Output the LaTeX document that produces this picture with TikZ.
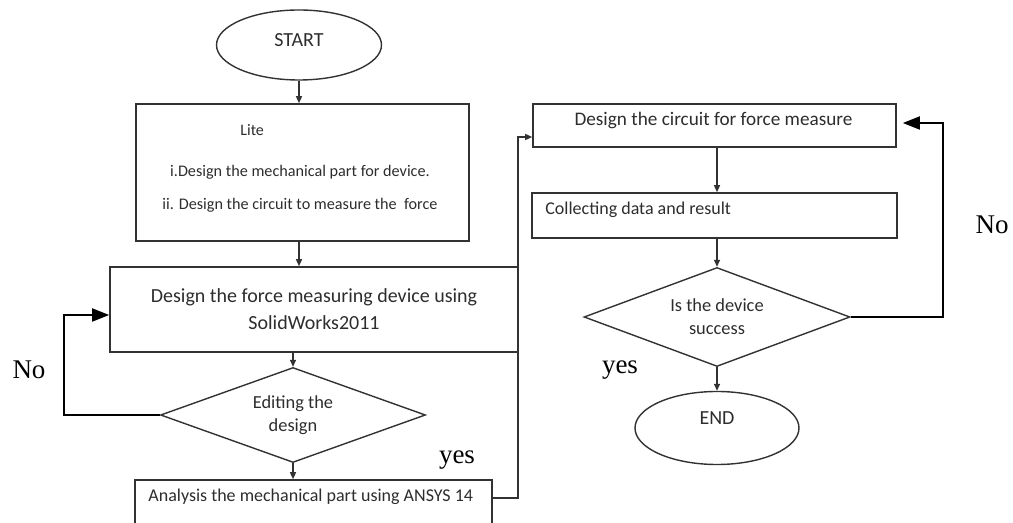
\documentclass[tikz,border=0pt]{standalone}
\usepackage{fontspec}
\setmainfont{Carlito}
\newfontfamily\notefont{Liberation Serif}
\usetikzlibrary{arrows.meta, shapes.geometric}
\definecolor{boxline}{RGB}{50,50,50}
\definecolor{boxtext}{RGB}{45,45,45}

\begin{document}
\begin{tikzpicture}[x=0.5pt,y=-0.5pt,
  every node/.style={text=boxtext,inner sep=0pt,font=\fontsize{9}{11}\selectfont},
  blk/.style={draw=boxline,line width=0.8pt,rectangle},
  term/.style={draw=boxline,line width=0.7pt,ellipse,font=\fontsize{10}{12}\selectfont},
  cond/.style={draw=boxline,line width=0.7pt,diamond,aspect=2.7,align=center,font=\fontsize{9.2}{11.5}\selectfont},
  flow/.style={-{Triangle[length=3.5pt,width=3pt]},line width=0.7pt,draw=boxline},
  loop/.style={-{Triangle[length=8.5pt,width=6.5pt]},line width=0.9pt,draw=black},
  note/.style={font=\notefont\fontsize{13.5}{16}\selectfont,text=black}]
  \useasboundingbox (0,0) rectangle (1013,523);
  \clip (0,0) rectangle (1013,523);
  \node[term,minimum width=82.5pt,minimum height=35pt,text depth=5pt](start) at(299,45){START};
  \node[blk,minimum width=166.5pt,minimum height=68.5pt](lit) at(302.5,172.5){};
  \node[font=\fontsize{8}{9}\selectfont,anchor=west](litA) at(240,130){Lite};
  \node[font=\fontsize{8.1}{9}\selectfont](litB) at(300,172){i.Design the mechanical part for device.};
  \node[font=\fontsize{8.1}{9}\selectfont](litC) at(300,205){ii. Design the circuit to measure the\ \ force};
  \node[blk,minimum width=204pt,minimum height=42.5pt,align=center,font=\fontsize{10}{13.5}\selectfont](design) at(314,309.5){Design the force measuring device using\\SolidWorks2011};
  \node[cond,minimum width=132.5pt,minimum height=47.5pt](edit) at(293,415){Editing the\\design};
  \node[blk,minimum width=178.5pt,minimum height=30pt](ansys) at(313.5,510){};
  \node[anchor=west](ansysT) at(148,497){Analysis the mechanical part using ANSYS 14};
  \node[blk,minimum width=181.5pt,minimum height=21.5pt](circ) at(714.5,125.5){};
  \node[font=\fontsize{9.6}{11}\selectfont](circT) at(713.5,120){Design the circuit for force measure};
  \node[blk,minimum width=182.5pt,minimum height=22.5pt](coll) at(714.5,215.5){};
  \node[anchor=west](collT) at(545,210){Collecting data and result};
  \node[cond,minimum width=133pt,minimum height=49.5pt](succ) at(717,317){Is the device\\success};
  \node[term,minimum width=82pt,minimum height=36.5pt,text depth=10pt](end) at(717,428){END};
  \coordinate(loopL) at(64,315);
  \coordinate(loopR) at(943,123);
  \coordinate(yesB) at(518,498);
  \coordinate(yesT) at(518,137);
  \draw[flow](start.south)--(start.south |- lit.north);
  \draw[flow](lit.south -| start)--(design.north -| start);
  \draw[flow](design.south -| edit)--(edit.north);
  \draw[flow](edit.south)--(ansys.north -| edit);
  \draw[flow](circ.south -| succ)--(coll.north -| succ);
  \draw[flow](coll.south -| succ)--(succ.north);
  \draw[flow](succ.south)--(end.north);
  \draw[flow](yesB -| ansys.east)--(yesB)--(yesT)--(yesT -| circ.west);
  \draw[loop](edit.west)-|(loopL)--(loopL -| design.west);
  \draw[loop,shorten >=3pt](succ.east)-|(loopR)--(loopR -| circ.east);
  \node[note](noA) at(29,370){No};
  \node[note](yesA) at(457,460){yes};
  \node[note](yesC) at(620,370){yes};
  \node[note](noB) at(992,225){No};
\end{tikzpicture}
\end{document}
